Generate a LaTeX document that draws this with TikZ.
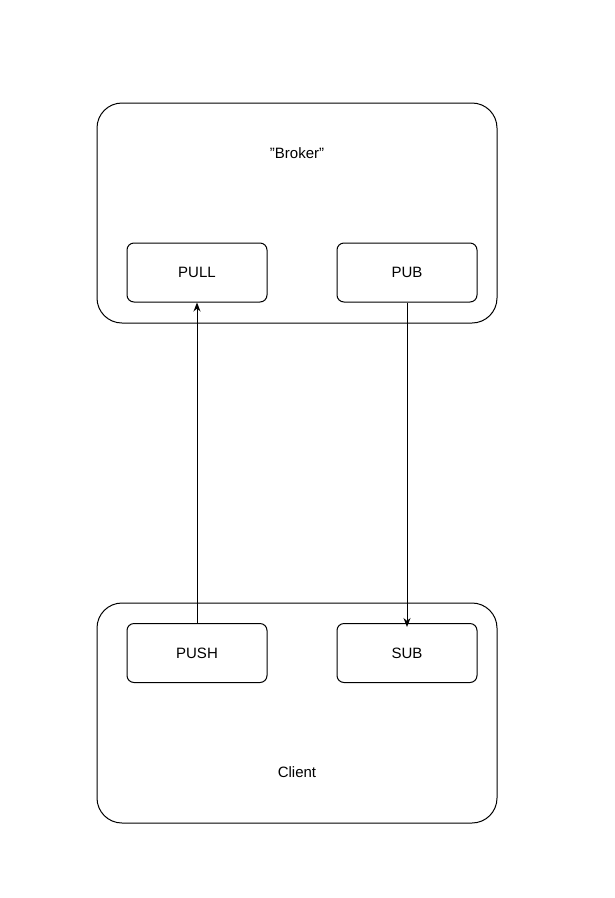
\documentclass[tikz,border=0pt]{standalone}
\usepackage{fontspec}
\setmainfont{Liberation Sans}
\usetikzlibrary{arrows.meta}
\tikzset{every picture/.style={line width=1pt}}
\tikzset{
  outerbox/.style={draw, rounded corners=25, minimum width=400, minimum height=220},
  sockbox/.style={draw, rounded corners=7, minimum width=140, minimum height=59, font=\fontsize{15}{18}\selectfont},
  lbl/.style={font=\fontsize{15}{18}\selectfont},
  flow/.style={-{Stealth[length=9pt,width=7pt]}}
}
\begin{document}
\begin{tikzpicture}[x=1pt,y=1pt,yscale=-1,xscale=1]
	\useasboundingbox (0,0) rectangle (614,898);

	% Broker
	\node [outerbox] (broker) at (297,213) {};
	\node [lbl] (brokerlbl) at (297,153) {"Broker"};
	\node [sockbox] (pull) at (197,272.5) {PULL};
	\node [sockbox] (pub) at (407,272.5) {PUB};

	% Client
	\node [outerbox] (client) at (297,713) {};
	\node [lbl] (clientlbl) at (297,772) {Client};
	\node [sockbox] (push) at (197,653) {PUSH};
	\node [sockbox] (sub) at (407,653) {SUB};

	% connectors
	\draw [flow] (push.north) -- (pull.south);
	\draw [flow] (pub.south) -- ([yshift=4]sub.north);
\end{tikzpicture}
\end{document}
